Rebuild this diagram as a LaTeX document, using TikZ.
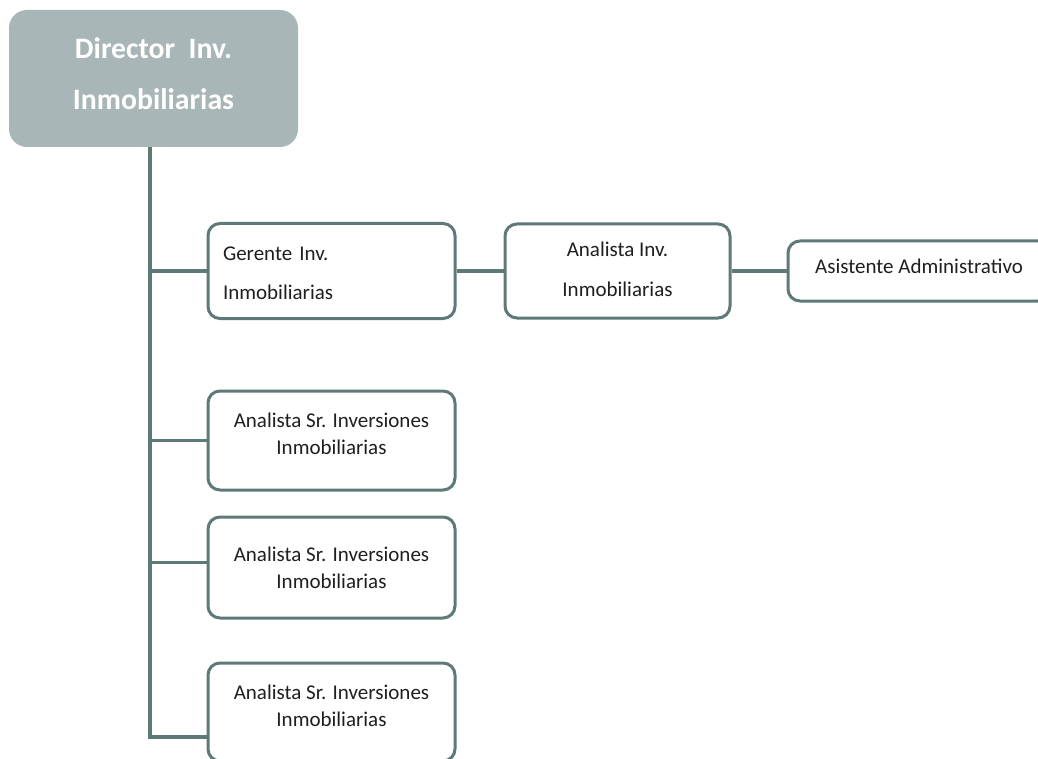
\documentclass[tikz,border=0pt]{standalone}
\usepackage{fontspec}
\setmainfont{Carlito}
\usetikzlibrary{calc}
\definecolor{lineC}{HTML}{5E7978}
\definecolor{dirfill}{HTML}{A8B6B7}
\definecolor{txt}{HTML}{1F1F1F}
\begin{document}
\begin{tikzpicture}[x=0.75pt,y=-0.75pt,
  box/.style={draw=lineC, line width=2.25pt, rounded corners=9pt, fill=white,
    inner sep=0pt},
  lbl/.style={text=txt, inner sep=0pt, font=\fontsize{15.75}{#1}\selectfont},
  conn/.style={draw=lineC, line width=2.6pt}]
\fill[white] (0,0) rectangle (1038,759);
\useasboundingbox (0,0) rectangle (1038,759);

% director
\node[fill=dirfill, rounded corners=13.5pt, minimum width={289*0.75pt},
  minimum height={137*0.75pt}, inner sep=0pt] (director) at (153.5,78.5) {};
\node[text=white, align=center, inner sep=0pt,
  font=\fontsize{22.3}{38.25}\selectfont\bfseries] (director-t)
  at ($(director.center)+(0,-4.5)$) {Director\ \ Inv.\\Inmobiliarias};

% boxes
\node[box, minimum width={247*0.75pt}, minimum height={95*0.75pt}] (gerente) at (331.5,271) {};
\node[box, minimum width={225*0.75pt}, minimum height={94*0.75pt}] (analista) at (617.5,271) {};
\node[box, minimum width={262*0.75pt}, minimum height={60*0.75pt}] (asist) at (919,271) {};
\node[box, minimum width={247*0.75pt}, minimum height={99*0.75pt}] (sr1) at (331.5,440.5) {};
\node[box, minimum width={247*0.75pt}, minimum height={101*0.75pt}] (sr2) at (331.5,567.5) {};
\node[box, minimum width={247*0.75pt}, minimum height={98*0.75pt}] (sr3) at (331.5,712) {};

% texts
\node[lbl=29.25, align=left, text width={217*0.75pt}] (gerente-t)
  at ($(gerente.center)+(0,2.5)$) {Gerente Inv.\\Inmobiliarias};
\node[lbl=30, align=center] (analista-t)
  at ($(analista.center)+(0,-2)$) {Analista Inv.\\Inmobiliarias};
\node[lbl=20, align=center] (asist-t)
  at ($(asist.center)+(0,-5)$) {Asistente Administrativo};
\node[lbl=20.25, align=center] (sr1-t)
  at ($(sr1.center)+(0,-6.5)$) {Analista Sr. Inversiones\\Inmobiliarias};
\node[lbl=20.25, align=center] (sr2-t)
  at ($(sr2.center)+(0,0)$) {Analista Sr. Inversiones\\Inmobiliarias};
\node[lbl=20.25, align=center] (sr3-t)
  at ($(sr3.center)+(0,-6)$) {Analista Sr. Inversiones\\Inmobiliarias};

% connectors
\coordinate (tb) at (150,737);
\coordinate (s2) at ($(sr2.west)+(0,-5)$);
\draw[conn] (director.south -| tb) -- (tb) -- (tb -| sr3.west);
\draw[conn] (gerente.west -| tb) -- (gerente.west);
\draw[conn] (sr1.west -| tb) -- (sr1.west);
\draw[conn] (s2 -| tb) -- (s2);
\draw[conn] (gerente.east) -- (analista.west);
\draw[conn] (analista.east) -- (asist.west);
\end{tikzpicture}
\end{document}
